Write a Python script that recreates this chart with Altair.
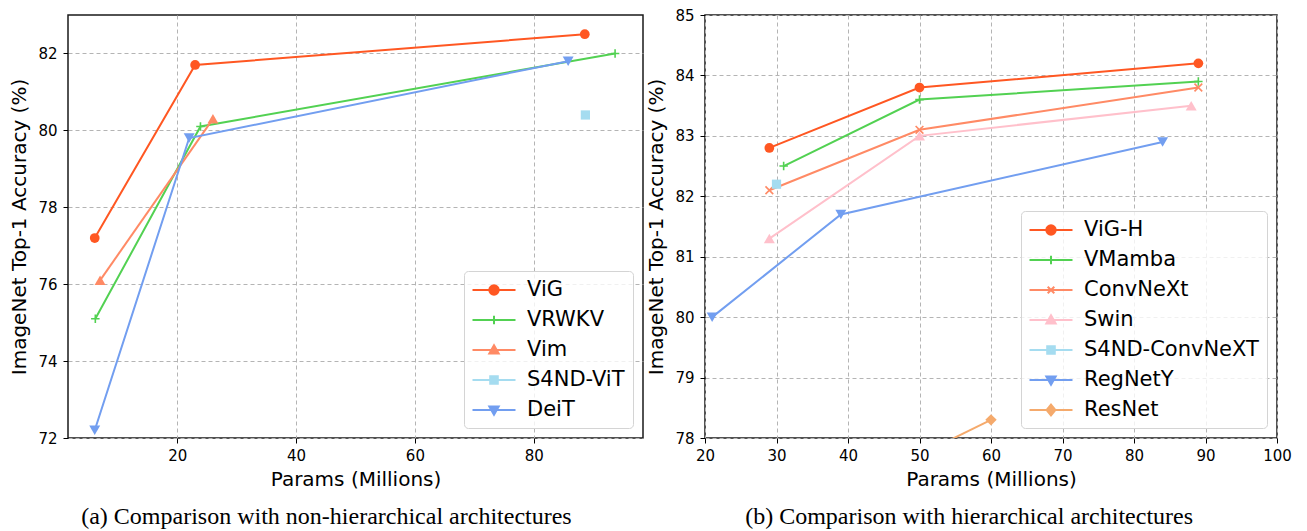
import altair as alt
import pandas as pd

# ---------------- Panel (a): non-hierarchical ----------------
a_models = ["ViG", "VRWKV", "Vim", "S4ND-ViT", "DeiT"]
a_colors = ["#FF5722", "#52D152", "#FF8A65", "#A5DCF0", "#729EF0"]
a_markers = ["circle", "plus", "triangle-up", "square", "triangle-down"]
a_params = [
    [6.1, 23.0, 88.6],      # ViG
    [6.2, 23.9, 93.7],      # VRWKV
    [7.0, 26.0],            # Vim
    [88.7],                 # S4ND-ViT
    [6.1, 22.0, 85.8],      # DeiT
]
a_acc = [
    [77.2, 81.7, 82.5],
    [75.1, 80.1, 82.0],
    [76.1, 80.3],
    [80.4],
    [72.2, 79.8, 81.8],
]
a_xticks = [20, 40, 60, 80]
a_yticks = [72, 74, 76, 78, 80, 82]

# ---------------- Panel (b): hierarchical ----------------
b_models = ["ViG-H", "VMamba", "ConvNeXt", "Swin", "S4ND-ConvNeXT", "RegNetY", "ResNet"]
b_colors = ["#FF5722", "#52D152", "#FF8A65", "#FFC0CB", "#A5DCF0", "#729EF0", "#F5AA6C"]
b_markers = ["circle", "plus", "x", "triangle-up", "square", "triangle-down", "diamond"]
b_params = [
    [29, 50, 89],           # ViG-H
    [31, 50, 89],           # VMamba
    [29, 50, 89],           # ConvNeXt
    [29, 50, 88],           # Swin
    [30],                   # S4ND-ConvNeXT
    [21, 39, 84],           # RegNetY
    [44.5, 60],             # ResNet
]
b_acc = [
    [82.8, 83.8, 84.2],
    [82.5, 83.6, 83.9],
    [82.1, 83.1, 83.8],
    [81.3, 83.0, 83.5],
    [82.2],
    [80.0, 81.7, 82.9],
    [77.4, 78.3],
]
b_xticks = [20, 30, 40, 50, 60, 70, 80, 90, 100]
b_yticks = [78, 79, 80, 81, 82, 83, 84, 85]

# marker geometry (unit paths)
PLUS = "M -1 0 L 1 0 M 0 -1 L 0 1"
XMARK = "M -1 -1 L 1 1 M -1 1 L 1 -1"
MARK_SHAPE = {"circle": "circle", "plus": PLUS, "x": XMARK, "triangle-up": "triangle-up",
              "square": "square", "triangle-down": "triangle-down", "diamond": "diamond"}
MARK_SIZE = {"circle": 95, "plus": 72, "x": 60, "triangle-up": 120, "square": 85,
             "triangle-down": 120, "diamond": 130}
# legend glyphs: a line with the marker on it (1 unit = 10 px at symbolSize 400)
LINE = "M -2.15 0 L 2.15 0 "
LEG_SHAPE = {
    "circle": LINE + "M 0.47 0 A 0.47 0.47 0 1 1 -0.47 0 A 0.47 0.47 0 1 1 0.47 0 Z",
    "plus": LINE + "M 0 -0.42 L 0 0.42",
    "x": LINE + "M -0.33 -0.33 L 0.33 0.33 M -0.33 0.33 L 0.33 -0.33",
    "triangle-up": LINE + "M 0 -0.47 L 0.47 0.36 L -0.47 0.36 Z",
    "square": LINE + "M -0.38 -0.38 L 0.38 -0.38 L 0.38 0.38 L -0.38 0.38 Z",
    "triangle-down": LINE + "M 0 0.47 L 0.47 -0.36 L -0.47 -0.36 Z",
    "diamond": LINE + "M 0 -0.55 L 0.44 0 L 0 0.55 L -0.44 0 Z",
}
UNFILLED = {"plus", "x"}

FONT = "DejaVu Sans"


def panel(models, colors, markers, params, acc, xdom, xticks, ydom, yticks, caption, w, h):
    rows = []
    for m, ps, ac in zip(models, params, acc):
        for p, a in zip(ps, ac):
            rows.append({"model": m, "params": p, "acc": a})
    df = pd.DataFrame(rows)

    xenc = alt.X("params:Q", scale=alt.Scale(domain=xdom, nice=False, zero=False),
                 axis=alt.Axis(values=xticks, title="Params (Millions)", labelFlush=False,
                               labelOverlap=False, labelPadding=5, titlePadding=6))
    yenc = alt.Y("acc:Q", scale=alt.Scale(domain=ydom, nice=False, zero=False),
                 axis=alt.Axis(values=yticks, title="ImageNet Top-1 Accuracy (%)",
                               labelPadding=6, titlePadding=8))
    # colour scale for the drawn marks (extra unused entry keeps its domain distinct
    # from the legend scales so the legends are not merged into a disabled one)
    cscale = alt.Scale(domain=models + ["~"], range=colors + ["#000000"])

    base = alt.Chart(df)
    layers = [base.mark_line(strokeWidth=2, clip=True).encode(
        x=xenc, y=yenc, color=alt.Color("model:N", scale=cscale, legend=None),
        detail="model:N")]

    for mk in dict.fromkeys(markers):
        sel = [m for m, k in zip(models, markers) if k == mk]
        filled = mk not in UNFILLED
        layers.append(base.mark_point(
            shape=MARK_SHAPE[mk], size=MARK_SIZE[mk], filled=filled, opacity=1,
            strokeWidth=1.6, clip=True).encode(
            x=xenc, y=yenc, color=alt.Color("model:N", scale=cscale, legend=None)
        ).transform_filter(alt.FieldOneOfPredicate(field="model", oneOf=sel)))

    fills = ["transparent" if k in UNFILLED else c for k, c in zip(markers, colors)]
    leg = alt.Legend(title=None, orient="bottom-right", offset=10, padding=8,
                     labelFontSize=21, labelFont=FONT, labelColor="black", labelLimit=400,
                     symbolSize=400, symbolStrokeWidth=2, symbolOpacity=1,
                     symbolOffset=11, labelOffset=22, rowPadding=9,
                     strokeColor="#d4d4d4", fillColor="rgba(255,255,255,0.8)",
                     cornerRadius=4)
    layers.append(base.mark_point(filled=True, opacity=0, strokeWidth=2).encode(
        x=xenc, y=yenc,
        fill=alt.Fill("model:N", scale=alt.Scale(domain=models, range=fills), legend=leg),
        stroke=alt.Stroke("model:N", scale=alt.Scale(domain=models, range=colors), legend=leg),
        shape=alt.Shape("model:N", scale=alt.Scale(domain=models,
                                                   range=[LEG_SHAPE[k] for k in markers]),
                        legend=leg),
    ))

    return alt.layer(*layers).properties(
        width=w, height=h,
        title=alt.TitleParams(text=caption, orient="bottom", anchor="middle", frame="bounds",
                              font="Liberation Serif", fontSize=24, fontWeight="normal",
                              color="black", offset=16))


left = panel(a_models, a_colors, a_markers, a_params, a_acc, [1.6, 98.4], a_xticks,
             [72, 83], a_yticks, "(a) Comparison with non-hierarchical architectures", 575, 423)
right = panel(b_models, b_colors, b_markers, b_params, b_acc, [20, 100], b_xticks,
              [78, 85], b_yticks, "(b) Comparison with hierarchical architectures", 572, 423)

chart = alt.hconcat(left, right, spacing=2).resolve_scale(
    color="independent", fill="independent", stroke="independent", shape="independent"
).resolve_legend(
    color="independent", fill="independent", stroke="independent", shape="independent"
).properties(
    padding={"left": 1, "top": -1, "right": 0, "bottom": 0}
).configure_view(stroke="#1a1a1a", strokeWidth=1.5).configure_axis(
    grid=True, gridDash=[4, 3], gridColor="#b4b4b4", gridWidth=1,
    domain=False, tickColor="black", tickSize=5, tickWidth=1,
    labelFont=FONT, labelFontSize=15, labelColor="black",
    titleFont=FONT, titleFontSize=20, titleFontWeight="normal", titleColor="black",
).configure_legend(symbolOpacity=1)

chart.save("out.html", embed_options={"renderer": "svg", "actions": False})
